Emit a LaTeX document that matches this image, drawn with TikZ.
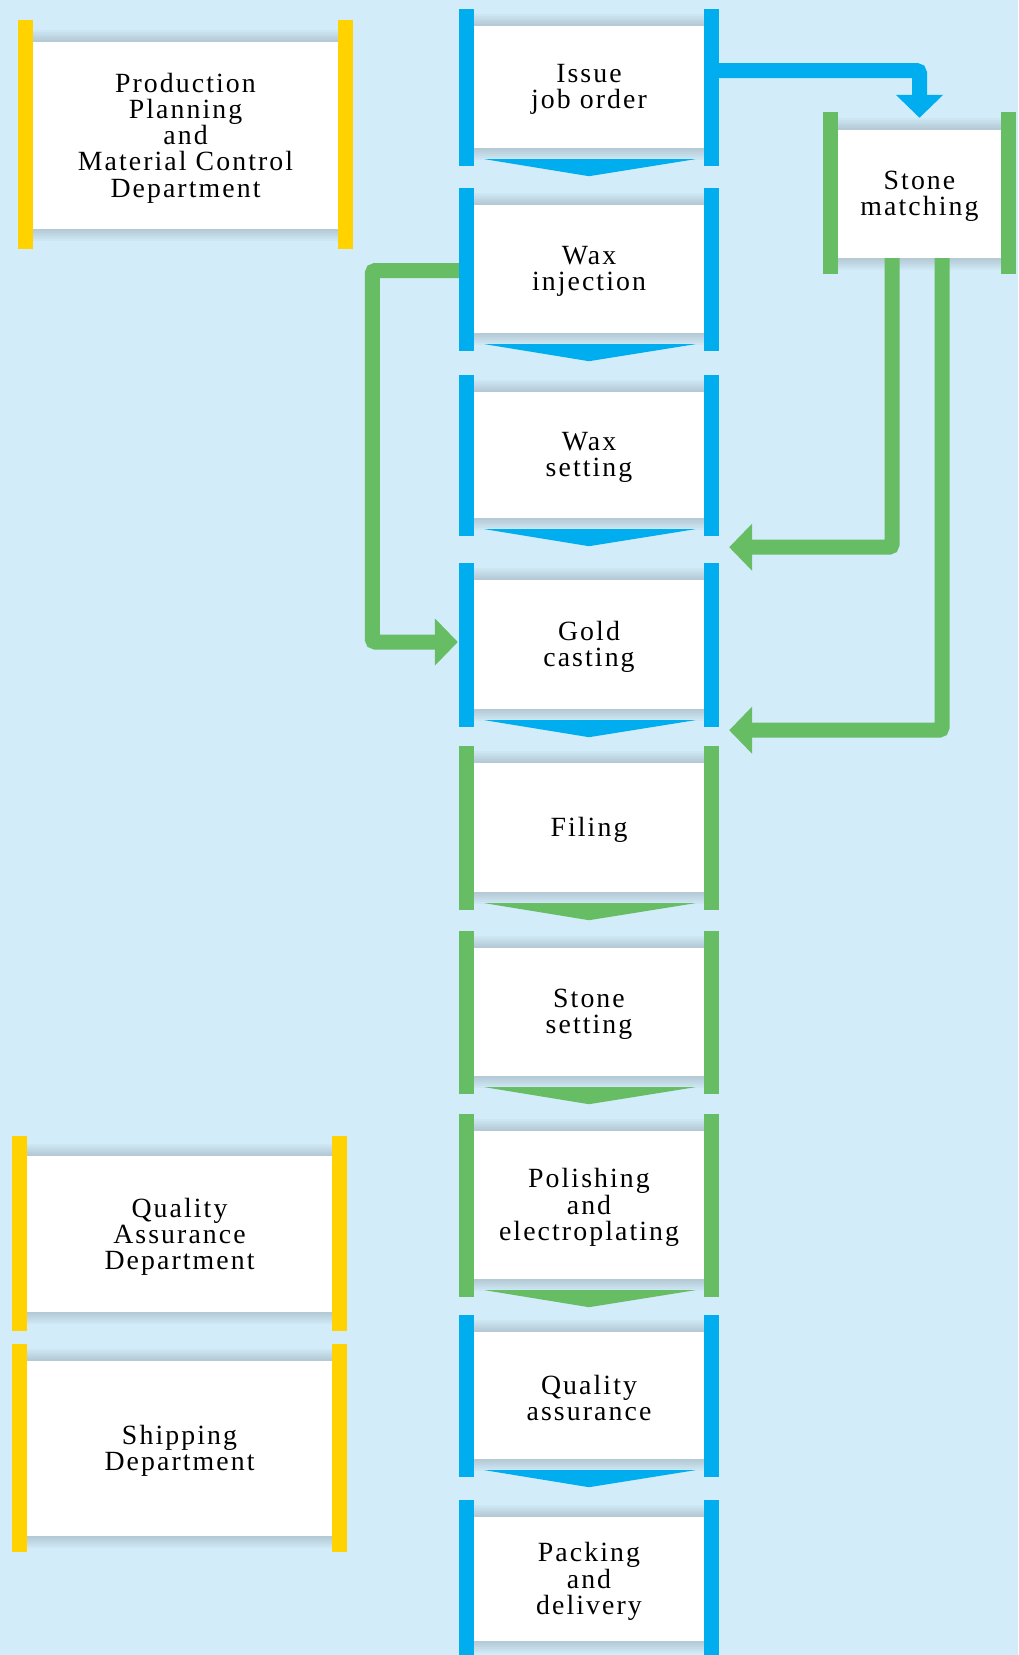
\documentclass[tikz,border=0pt]{standalone}
\usepackage{fontspec}
\setmainfont{Liberation Serif}[LetterSpace=7.5]
\usetikzlibrary{arrows.meta,calc}
\definecolor{bgblue}{RGB}{210,236,249}
\definecolor{pblue}{RGB}{0,174,239}
\definecolor{pgreen}{RGB}{102,189,99}
\definecolor{pyellow}{RGB}{255,210,0}
\tikzset{
  whitebox/.style={fill=white,inner sep=0pt},
  boxtext/.style={inner sep=0pt,align=center,
    font=\fontsize{27.8pt}{26.2pt}\selectfont},
  conn/.style={line width=15pt,rounded corners=3pt,
    -{Triangle[width=46pt,length=23pt]}},
  shade/.style={fill=black,opacity=0.022},
}
% #1 name #2 xl #3 xr #4 yt #5 yb #6 colour #7 bar ext top #8 bar ext bottom #9 text
\newcommand\mkbox[9]{%
  \foreach \k in {2,4,...,12}{\fill[shade] (#2,#4-\k) rectangle (#3,#5+\k);}
  \node[whitebox,minimum width={#3-#2},minimum height={#5-#4}] (#1)
     at ({(#2+#3)/2},{(#4+#5)/2}) {};
  \node[boxtext] (#1-text) at ([yshift=-2.5pt]#1.center) {#9};
  \fill[#6] ([xshift=-15pt,yshift=#7pt]#1.north west) rectangle ([yshift=-#8pt]#1.south west);
  \fill[#6] ([yshift=#7pt]#1.north east) rectangle ([xshift=15pt,yshift=-#8pt]#1.south east);
}
\newcommand\chev[2]{%
  \fill[#2] ([xshift=11pt,yshift=-11pt]#1.south west) -- ([xshift=-9pt,yshift=-11pt]#1.south east)
    -- ([yshift=-28pt]#1.south) -- cycle;
}
\begin{document}
\begin{tikzpicture}[x=1pt,y=-1pt]
\fill[bgblue] (0,0) rectangle (1018,1655);
\useasboundingbox (0,0) rectangle (1018,1655);
\mkbox{issue}{474}{704}{26}{148}{pblue}{17}{18}{Issue\\job order}
\chev{issue}{pblue}
\mkbox{waxinj}{474}{704}{205}{333}{pblue}{17}{18}{Wax\\injection}
\chev{waxinj}{pblue}
\mkbox{waxset}{474}{704}{392}{518}{pblue}{17}{18}{Wax\\setting}
\chev{waxset}{pblue}
\mkbox{gold}{474}{704}{580}{709}{pblue}{17}{18}{Gold\\casting}
\chev{gold}{pblue}
\mkbox{filing}{474}{704}{763}{892}{pgreen}{17}{18}{Filing}
\chev{filing}{pgreen}
\mkbox{stoneset}{474}{704}{948}{1076}{pgreen}{17}{18}{Stone\\setting}
\chev{stoneset}{pgreen}
\mkbox{polish}{474}{704}{1131}{1279}{pgreen}{17}{18}{Polishing\\and\\electroplating}
\chev{polish}{pgreen}
\mkbox{qa}{474}{704}{1332}{1459}{pblue}{17}{18}{Quality\\assurance}
\chev{qa}{pblue}
\mkbox{pack}{474}{704}{1517}{1641}{pblue}{17}{18}{Packing\\and\\delivery}
\mkbox{ppmc}{33}{338}{42}{229}{pyellow}{22}{20}{Production\\Planning\\and\\Material Control\\Department}
\mkbox{qadept}{27}{332}{1156}{1312}{pyellow}{20}{19}{Quality\\Assurance\\Department}
\mkbox{ship}{27}{332}{1361}{1536}{pyellow}{17}{16}{Shipping\\Department}
\mkbox{stonem}{838}{1001}{130}{258}{pgreen}{18}{16}{Stone\\matching}
% connectors
\draw[conn,pblue] ([xshift=15pt,yshift=16.5pt]issue.east) -| ([yshift=12pt]stonem.north);
\draw[conn,pgreen] ([xshift=-27.5pt]stonem.south) |- ([xshift=25pt,yshift=-29pt]waxset.south east);
\draw[conn,pgreen] ([xshift=22.5pt]stonem.south) |- ([xshift=25pt,yshift=-21pt]gold.south east);
\draw[conn,pgreen] ([xshift=-15pt,yshift=-1.5pt]waxinj.west) -- ++(-86.5,0) |- ([xshift=-16pt,yshift=2.5pt]gold.west);
\end{tikzpicture}
\end{document}
